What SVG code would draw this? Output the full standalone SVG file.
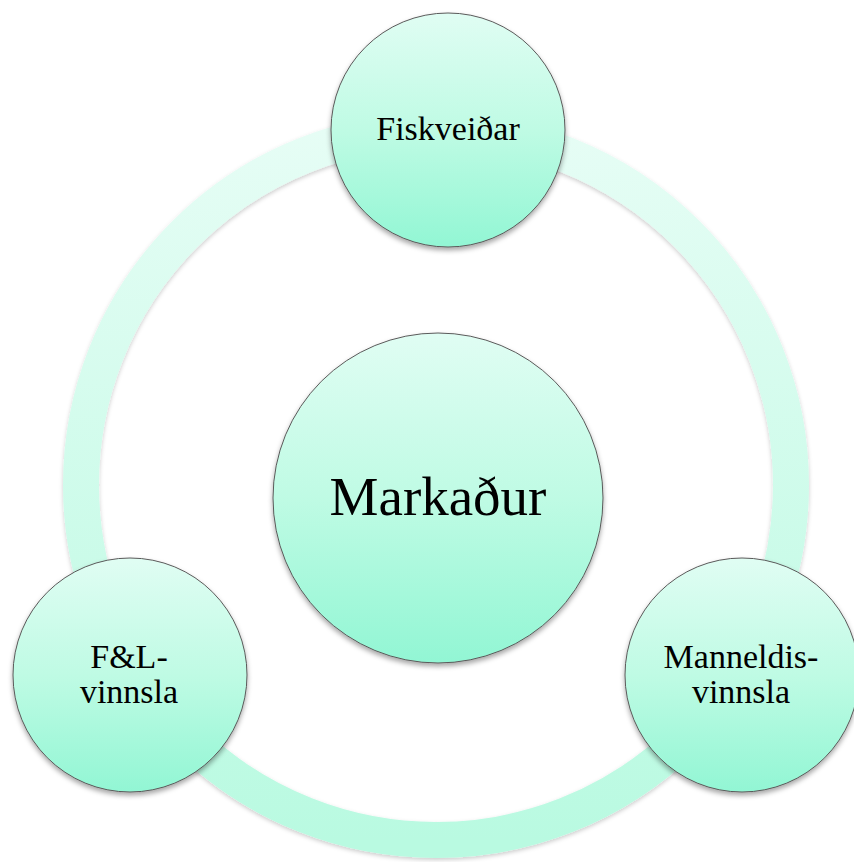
<svg xmlns="http://www.w3.org/2000/svg" width="854" height="862" viewBox="0 0 854 862">
  <defs>
    <linearGradient id="nodeFill" x1="0" y1="0" x2="0" y2="1">
      <stop offset="0" stop-color="#e0fdf3"/>
      <stop offset="0.5" stop-color="#bffbe4"/>
      <stop offset="1" stop-color="#92f6d4"/>
    </linearGradient>
    <linearGradient id="ringStroke" x1="0" y1="0" x2="0" y2="1">
      <stop offset="0" stop-color="#e6fdf5"/>
      <stop offset="1" stop-color="#b9fae1"/>
    </linearGradient>
    <filter id="shadow" x="-20%" y="-20%" width="140%" height="140%">
      <feDropShadow dx="0" dy="3" stdDeviation="2.5" flood-color="#000" flood-opacity="0.35"/>
    </filter>
    <filter id="ringShadow" x="-10%" y="-10%" width="120%" height="120%">
      <feDropShadow dx="0" dy="2" stdDeviation="2" flood-color="#000" flood-opacity="0.2"/>
    </filter>
  </defs>
  <style>
    .node { fill: url(#nodeFill); stroke: #5a5a5a; stroke-width: 1; filter: url(#shadow); }
    .label { font-family: "Liberation Serif", "Times New Roman", serif; fill: #000; text-anchor: middle; }
    .small { font-size: 34px; }
    .big { font-size: 55px; }
  </style>
  <g id="connectors">
    <circle cx="436" cy="485" r="355" fill="none" stroke="url(#ringStroke)" stroke-width="36" filter="url(#ringShadow)"/>
  </g>
  <g id="node-fiskveidar">
    <circle class="node" cx="448" cy="130" r="117"/>
    <text class="label small" x="448" y="140">Fiskveiðar</text>
  </g>
  <g id="node-fl-vinnsla">
    <circle class="node" cx="130" cy="675" r="117"/>
    <text class="label small" x="129" y="668">F&amp;L-</text>
    <text class="label small" x="129" y="703">vinnsla</text>
  </g>
  <g id="node-manneldisvinnsla">
    <circle class="node" cx="742" cy="675" r="117"/>
    <text class="label small" x="741" y="668">Manneldis-</text>
    <text class="label small" x="741" y="703">vinnsla</text>
  </g>
  <g id="node-markadur">
    <circle class="node" cx="438" cy="498" r="165"/>
    <text class="label big" x="438" y="515">Markaður</text>
  </g>
</svg>
